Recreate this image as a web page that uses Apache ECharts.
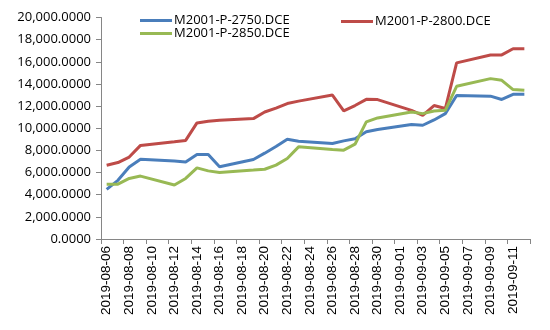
<!DOCTYPE html>
<html>
<head>
<meta charset="utf-8">
<script src="https://cdn.jsdelivr.net/npm/echarts@6/dist/echarts.min.js"></script>
<style>
  html, body { margin: 0; padding: 0; background: #fff; }
  #chart { width: 550px; height: 330px; }
</style>
</head>
<body>
<div id="chart"></div>
<script>
// Trading days and settlement values of three soybean-meal put options
var tradeDates = [
  '2019-08-06','2019-08-07','2019-08-08','2019-08-09',
  '2019-08-12','2019-08-13','2019-08-14','2019-08-15','2019-08-16',
  '2019-08-19','2019-08-20','2019-08-21','2019-08-22','2019-08-23',
  '2019-08-26','2019-08-27','2019-08-28','2019-08-29','2019-08-30',
  '2019-09-02','2019-09-03','2019-09-04','2019-09-05','2019-09-06',
  '2019-09-09','2019-09-10','2019-09-11','2019-09-12'
];
var seriesNames = ['M2001-P-2750.DCE', 'M2001-P-2800.DCE', 'M2001-P-2850.DCE'];
var p2750 = [4480, 5300, 6500, 7200, 7050, 6960, 7630, 7630, 6520,
             7180, 7750, 8350, 9000, 8830, 8620, 8860, 9050, 9680, 9880,
             10330, 10270, 10750, 11320, 12950, 12900, 12600, 13060, 13060];
var p2800 = [6660, 6900, 7400, 8450, 8780, 8900, 10480, 10630, 10720,
             10870, 11470, 11820, 12230, 12450, 13000, 11560, 12050, 12610, 12590,
             11620, 11170, 12050, 11780, 15900, 16620, 16620, 17180, 17180];
var p2850 = [4950, 4950, 5470, 5680, 4870, 5470, 6420, 6150, 6010,
             6220, 6300, 6670, 7270, 8320, 8080, 8020, 8560, 10570, 10930,
             11470, 11320, 11560, 11620, 13790, 14480, 14330, 13490, 13430];
var yTicks = { min: 0, max: 20000, step: 2000 };

// Calendar-day axis from the first to the last trading day
function pad(n) { return (n < 10 ? '0' : '') + n; }
var calendar = [];
(function () {
  var d = new Date(tradeDates[0] + 'T00:00:00Z');
  var end = new Date(tradeDates[tradeDates.length - 1] + 'T00:00:00Z');
  while (d <= end) {
    calendar.push(d.getUTCFullYear() + '-' + pad(d.getUTCMonth() + 1) + '-' + pad(d.getUTCDate()));
    d.setUTCDate(d.getUTCDate() + 1);
  }
})();

function onCalendar(values) {
  var map = {};
  tradeDates.forEach(function (t, i) { map[t] = values[i]; });
  return calendar.map(function (c) { return map.hasOwnProperty(c) ? map[c] : null; });
}

var colors = ['#4A7EBB', '#BE4B48', '#98B954'];
var allValues = [p2750, p2800, p2850];

var chart = echarts.init(document.getElementById('chart'), null, { renderer: 'canvas' });

var series = seriesNames.map(function (name, i) {
  return {
    name: name,
    type: 'line',
    data: onCalendar(allValues[i]),
    connectNulls: true,
    showSymbol: false,
    symbol: 'none',
    lineStyle: { width: 3, color: colors[i] },
    itemStyle: { color: colors[i] },
    animation: false
  };
});

var legendText = { fontFamily: 'Open Sans', fontSize: 13, color: '#000' };

chart.setOption({
  backgroundColor: '#fff',
  animation: false,
  grid: { left: 101, right: 20, top: 17.5, bottom: 91 },
  legend: [
    {
      data: [seriesNames[0], seriesNames[2]],
      orient: 'vertical',
      left: 135, top: 9,
      itemWidth: 32, itemHeight: 3, itemGap: 0,
      icon: 'rect',
      textStyle: Object.assign({ padding: [0, 0, 0, -3] }, legendText)
    },
    {
      data: [seriesNames[1]],
      orient: 'horizontal',
      left: 336, top: 10,
      itemWidth: 32, itemHeight: 3,
      icon: 'rect',
      textStyle: Object.assign({ padding: [0, 0, 0, -3] }, legendText)
    }
  ],
  xAxis: {
    type: 'category',
    data: calendar,
    boundaryGap: true,
    axisLine: { lineStyle: { color: '#868686', width: 1 } },
    axisTick: { show: true, interval: 1, length: 5, lineStyle: { color: '#868686' } },
    axisLabel: {
      interval: 1,
      rotate: 90,
      margin: 7,
      fontFamily: 'Liberation Sans',
      fontSize: 13.5,
      color: '#000'
    },
    splitLine: { show: false }
  },
  yAxis: {
    type: 'value',
    min: yTicks.min, max: yTicks.max, interval: yTicks.step,
    axisLine: { show: true, lineStyle: { color: '#868686', width: 1 } },
    axisTick: { show: true, length: 5, lineStyle: { color: '#868686' } },
    splitLine: { show: false },
    axisLabel: {
      margin: 10,
      fontFamily: 'Open Sans',
      fontSize: 13,
      color: '#000',
      formatter: function (v) {
        return v.toLocaleString('en-US', { minimumFractionDigits: 4, maximumFractionDigits: 4 });
      }
    }
  },
  series: series
});
</script>
</body>
</html>
